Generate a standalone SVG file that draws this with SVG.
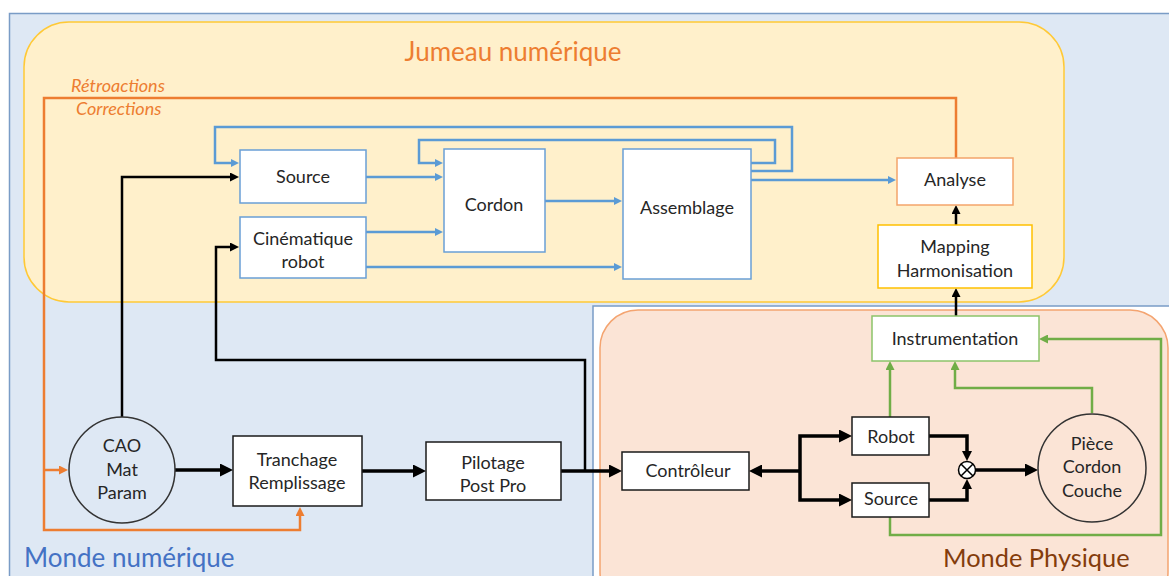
<svg xmlns="http://www.w3.org/2000/svg" width="1169" height="576" viewBox="0 0 1169 576">
<style>
text{font-family:Lato,"Open Sans","Liberation Sans",sans-serif;fill:#262626;font-size:18px;text-anchor:middle}
.title{font-size:26px;text-anchor:start}
.ital{font-style:italic;fill:#ED7D31;text-anchor:start;font-size:18px}
.bx{fill:#fff;stroke-width:1.5}
.bb{stroke:#6A9FD6}
.bk{stroke:#1a1a1a}
.cb{fill:none;stroke:#5B9BD5;stroke-width:2.5}
.ck{fill:none;stroke:#000;stroke-width:2.5}
.cK{fill:none;stroke:#000;stroke-width:3.5}
.cg{fill:none;stroke:#70AD47;stroke-width:2.5}
.co{fill:none;stroke:#ED7D31;stroke-width:2.5}
</style>
<defs>
<marker id="mb" viewBox="0 0 10 10" refX="0" refY="5" markerWidth="9" markerHeight="8" markerUnits="userSpaceOnUse" orient="auto"><path d="M0,0 L10,5 L0,10 z" fill="#5B9BD5"/></marker>
<marker id="mk" viewBox="0 0 10 10" refX="0" refY="5" markerWidth="10" markerHeight="9" markerUnits="userSpaceOnUse" orient="auto"><path d="M0,0 L10,5 L0,10 z" fill="#000"/></marker>
<marker id="mK" viewBox="0 0 10 10" refX="0" refY="5" markerWidth="13" markerHeight="13" markerUnits="userSpaceOnUse" orient="auto"><path d="M0,0 L10,5 L0,10 z" fill="#000"/></marker>
<marker id="mK2" viewBox="0 0 10 10" refX="0" refY="5" markerWidth="10" markerHeight="11" markerUnits="userSpaceOnUse" orient="auto"><path d="M0,0 L10,5 L0,10 z" fill="#000"/></marker>
<marker id="mg" viewBox="0 0 10 10" refX="0" refY="5" markerWidth="9" markerHeight="9" markerUnits="userSpaceOnUse" orient="auto"><path d="M0,0 L10,5 L0,10 z" fill="#70AD47"/></marker>
<marker id="mo" viewBox="0 0 10 10" refX="0" refY="5" markerWidth="9" markerHeight="9" markerUnits="userSpaceOnUse" orient="auto"><path d="M0,0 L10,5 L0,10 z" fill="#ED7D31"/></marker>
</defs>
<rect width="1169" height="576" fill="#fff"/>
<g id="monde-numerique">
<rect x="9.5" y="13.5" width="1200" height="600" fill="#DEE8F4" stroke="#7A9CC6" stroke-width="1.5"/>
<text class="title" x="24" y="567" style="fill:#4472C4">Monde numérique</text>
</g>
<g id="jumeau">
<rect x="24" y="22" width="1040" height="280" rx="45" fill="#FFF0CB" stroke="#FFC936" stroke-width="1.5"/>
<text class="title" x="513" y="61" style="fill:#ED7D31;text-anchor:middle">Jumeau numérique</text>
</g>
<g id="monde-physique">
<rect x="593" y="306" width="620" height="300" fill="#fff" stroke="#7A9CC6" stroke-width="1.5"/>
<rect x="600" y="310" width="568" height="300" rx="38" fill="#FBE4D6" stroke="#F4A470" stroke-width="1.5"/>
<text class="title" x="943" y="567" style="fill:#843C0C;font-size:25.4px">Monde Physique</text>
</g>
<g id="labels-retro">
<text class="ital" x="71" y="92">Rétroactions</text>
<text class="ital" x="76" y="115">Corrections</text>
</g>
<g id="connectors">
<path class="cb" d="M751,171 H792 V127 H215 V163 H231" marker-end="url(#mb)"/>
<path class="cb" d="M751,163 H775 V140 H419 V163 H435" marker-end="url(#mb)"/>
<path class="cb" d="M751,180 H888" marker-end="url(#mb)"/>
<path class="cb" d="M366,177 H435" marker-end="url(#mb)"/>
<path class="cb" d="M366,232 H435" marker-end="url(#mb)"/>
<path class="cb" d="M545,201 H614" marker-end="url(#mb)"/>
<path class="cb" d="M366,267 H614" marker-end="url(#mb)"/>
<path class="ck" d="M122,417 V177 H230" marker-end="url(#mk)"/>
<path class="ck" d="M585,471 V360 H216 V247 H230" marker-end="url(#mk)"/>
<path class="cK" d="M175,470 H220" marker-end="url(#mK)"/>
<path class="cK" d="M362,471 H413" marker-end="url(#mK)"/>
<path class="cK" d="M561,471 H609" marker-end="url(#mK)"/>
<path class="cK" d="M800,471 H762" marker-end="url(#mK)"/>
<path class="cK" d="M800,471 V436 H839" marker-end="url(#mK)"/>
<path class="cK" d="M800,471 V500 H839" marker-end="url(#mK)"/>
<path class="cK" d="M929,436 H967 V451" marker-end="url(#mK2)"/>
<path class="cK" d="M929,500 H967 V489" marker-end="url(#mK2)"/>
<path class="cK" d="M975,470 H1025" marker-end="url(#mK)"/>
<path class="ck" d="M956,225 V214" marker-end="url(#mk)"/>
<path class="ck" d="M956,316 V297" marker-end="url(#mk)"/>
<path class="cg" d="M890,417 V370" marker-end="url(#mg)"/>
<path class="cg" d="M1092,413 V388 H955 V370" marker-end="url(#mg)"/>
<path class="cg" d="M890,517 V535 H1161 V339 H1048" marker-end="url(#mg)"/>
<path class="co" d="M956,158 V98 H44 V530 H300 V516" marker-end="url(#mo)"/>
<path class="co" d="M44,470 H59" marker-end="url(#mo)"/>
</g>
<g id="source">
<rect class="bx bb" x="240" y="150" width="126" height="53"/>
<text x="303" y="183">Source</text>
</g>
<g id="cinematique">
<rect class="bx bb" x="240" y="217" width="126" height="61"/>
<text x="303" y="245">Cinématique</text>
<text x="303" y="268">robot</text>
</g>
<g id="cordon">
<rect class="bx bb" x="444" y="149" width="101" height="103"/>
<text x="494" y="211">Cordon</text>
</g>
<g id="assemblage">
<rect class="bx bb" x="623" y="149" width="128" height="130"/>
<text x="687" y="214">Assemblage</text>
</g>
<g id="analyse">
<rect class="bx" x="897" y="158" width="116" height="47" stroke="#F4A46B"/>
<text x="955" y="186">Analyse</text>
</g>
<g id="mapping">
<rect class="bx" x="878" y="225" width="154" height="63" stroke="#FFC000"/>
<text x="955" y="253">Mapping</text>
<text x="955" y="277">Harmonisation</text>
</g>
<g id="cao">
<circle cx="122" cy="470" r="53" fill="#DEE8F4" stroke="#333" stroke-width="1.5"/>
<text x="122" y="452">CAO</text>
<text x="122" y="476">Mat</text>
<text x="122" y="499">Param</text>
</g>
<g id="tranchage">
<rect class="bx bk" x="233" y="436" width="129" height="70"/>
<text x="297" y="466">Tranchage</text>
<text x="297" y="489">Remplissage</text>
</g>
<g id="pilotage">
<rect class="bx bk" x="426" y="442" width="135" height="58"/>
<text x="493" y="469">Pilotage</text>
<text x="493" y="492">Post Pro</text>
</g>
<g id="controleur">
<rect class="bx bk" x="622" y="452" width="127" height="38"/>
<text x="688" y="477">Contrôleur</text>
</g>
<g id="instrumentation">
<rect class="bx" x="872" y="316" width="167" height="45" stroke="#8CC36A"/>
<text x="955" y="345">Instrumentation</text>
</g>
<g id="robot">
<rect class="bx bk" x="852" y="417" width="77" height="38"/>
<text x="891" y="443">Robot</text>
</g>
<g id="source-phys">
<rect class="bx bk" x="852" y="483" width="77" height="34"/>
<text x="891" y="505">Source</text>
</g>
<g id="mix">
<circle cx="967" cy="470" r="8.5" fill="#fff" stroke="#000" stroke-width="1.5"/>
<path d="M961,464 L973,476 M973,464 L961,476" stroke="#000" stroke-width="1.5"/>
</g>
<g id="piece">
<circle cx="1092" cy="468" r="54" fill="#FBE4D6" stroke="#333" stroke-width="1.5"/>
<text x="1092" y="450">Pièce</text>
<text x="1092" y="473">Cordon</text>
<text x="1092" y="497">Couche</text>
</g>
</svg>
